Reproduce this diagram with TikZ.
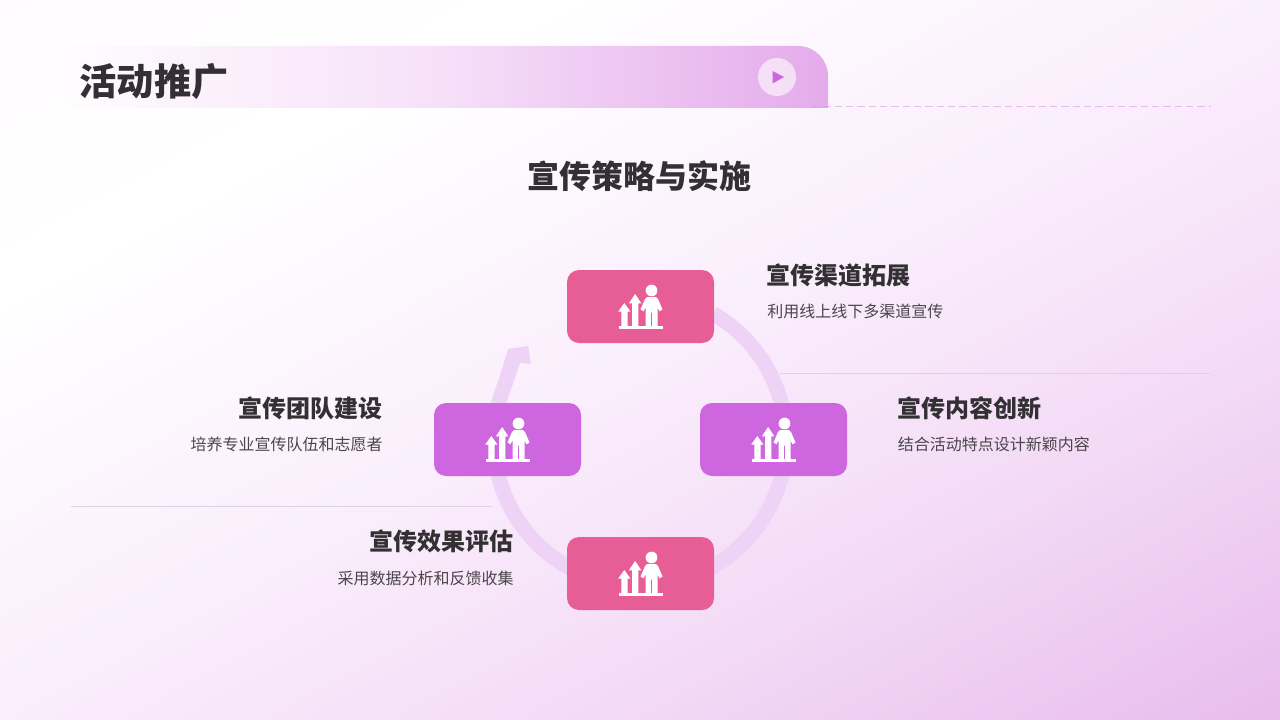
\documentclass[tikz,border=0pt]{standalone}
\usepackage{fontspec}
\setmainfont{Noto Sans CJK SC}
\definecolor{bgA}{HTML}{FFFBFF}
\definecolor{bgB}{HTML}{FFFFFF}
\definecolor{bgC}{HTML}{FAEEFC}
\definecolor{bgE}{HTML}{F3DAF6}
\definecolor{bgD}{HTML}{E8BBEC}
\definecolor{hdrA}{HTML}{FFFDFF}
\definecolor{hdrM}{HTML}{F6E0F9}
\definecolor{hdrB}{HTML}{E4ABEB}
\definecolor{dashc}{HTML}{D98FE6}
\pgfdeclareverticalshading{bgshade}{100bp}{
  color(0bp)=(bgA); color(25bp)=(bgA); color(38.3bp)=(bgB);
  color(50bp)=(bgC); color(60bp)=(bgE); color(71bp)=(bgD); color(100bp)=(bgD)}
\pgfdeclarehorizontalshading{hdrshade}{100bp}{
  color(0bp)=(hdrA); color(25bp)=(hdrA); color(50bp)=(hdrM); color(75bp)=(hdrB); color(100bp)=(hdrB)}
\definecolor{rosebox}{HTML}{E75E96}
\definecolor{violetbox}{HTML}{CE66E0}
\definecolor{ringc}{HTML}{EFD3F6}
\definecolor{inkdark}{HTML}{333033}
\definecolor{inkmid}{HTML}{4A454A}
\definecolor{rulec}{HTML}{DCD2E2}
\tikzset{
  x=0.75pt,y=-0.75pt,
  cardbox/.style={rounded corners=9pt,minimum width=110.25pt,minimum height=54.75pt,inner sep=0pt},
  rosecard/.style={cardbox,fill=rosebox},
  violetcard/.style={cardbox,fill=violetbox},
  maintitle/.style={inner sep=0pt,font=\bfseries\fontsize{27.9pt}{30pt}\selectfont,text=inkdark},
  subtitle/.style={inner sep=0pt,font=\bfseries\fontsize{24pt}{28pt}\selectfont,text=inkdark},
  headl/.style={inner sep=0pt,font=\bfseries\fontsize{18pt}{22pt}\selectfont,text=inkdark},
  descl/.style={inner sep=0pt,font=\fontsize{12pt}{15pt}\selectfont,text=inkmid},
  sepline/.style={draw=rulec,line width=0.75pt},
  ringline/.style={draw=ringc,line width=11.25pt},
  usericon/.pic={
    \fill[white] (-22,19.5) rectangle (22,22);
    \fill[white] (11,-16) circle (4.4pt);
    \fill[white] (-19.2,20) -- (-19.2,5.2) -- (-22.4,5.2) -- (-16.2,-3.5) -- (-10,5.2) -- (-13,5.2) -- (-13,20) -- cycle;
    \fill[white] (-8.4,20) -- (-8.4,-3.2) -- (-11.6,-3.2) -- (-5.4,-12.5) -- (0.8,-3.2) -- (-2.2,-3.2) -- (-2.2,20) -- cycle;
    \fill[white] (6.5,-9.4) -- (15.5,-9.4) -- (17.5,-7.5) -- (22,3) -- (19,4.8) -- (17,1) -- (17,20) -- (11.7,20) -- (11.7,6) -- (10.3,6) -- (10.3,20) -- (5,20) -- (5,1) -- (3,4.8) -- (0,3) -- (4.5,-7.5) -- cycle;
  }
}
\begin{document}
\begin{tikzpicture}
\useasboundingbox (0,0) rectangle (1280,720);
\begin{scope}
  \clip (0,0) rectangle (1280,720);
  \shade[shading=bgshade,shading angle=-152] (-110,-390) rectangle (1390,1110);
\end{scope}
% header
\shade[shading=hdrshade] (52,46) -- (798,46) arc[start angle=90,end angle=0,radius=22.5pt] -- (828,108) -- (52,108) -- cycle;
\fill[white,fill opacity=0.6] (777,77) circle (14.25pt);
\fill[violetbox] (772.5,71) -- (784,77) -- (772.5,83.5) -- cycle;
\coordinate (dashA) at (812,106.5);
\coordinate (dashB) at (1211,106.5);
\draw[draw=dashc,draw opacity=0.55,line width=1.1pt,dash pattern=on 5.5pt off 3pt] (dashA) -- (dashB);
\node[maintitle,anchor=west] (ttl) at (79.5,82) {活动推广};
\node[subtitle] (sub) at (639.5,176) {宣传策略与实施};
% separators
\coordinate (s1a) at (780,373.5); \coordinate (s1b) at (1210,373.5);
\coordinate (s2a) at (71,506.5); \coordinate (s2b) at (492,506.5);
\draw[sepline] (s1a) -- (s1b);
\draw[sepline] (s2a) -- (s2b);
% ring
\coordinate (ringO) at (640,440);
\draw[ringline] ([shift={(ringO)}] 60:109.5pt) arc[start angle=60,end angle=-200,radius=109.5pt];
\fill[ringc] (495.8,387.5) .. controls (501.6,371.5) and (504,362) .. (508,349) -- (528,346) -- (531,364) -- (520,363) .. controls (517,372) and (514.6,379) .. (509.9,392.6) -- cycle;
% cards
\node[rosecard] (top) at (640.5,306.5) {};
\node[violetcard] (right) at (773.5,439.5) {};
\node[violetcard] (left) at (507.5,439.5) {};
\node[rosecard] (bottom) at (640.5,573.5) {};
\pic at (top) {usericon};
\pic at (right) {usericon};
\pic at (left) {usericon};
\pic at (bottom) {usericon};
% labels
\node[headl,anchor=west] (h1) at (766.5,275) {宣传渠道拓展};
\node[descl,anchor=west] (d1) at (767,311) {利用线上线下多渠道宣传};
\node[headl,anchor=west] (h2) at (897.5,408) {宣传内容创新};
\node[descl,anchor=west] (d2) at (897.5,444) {结合活动特点设计新颖内容};
\node[headl,anchor=east] (h3) at (383,408) {宣传团队建设};
\node[descl,anchor=east] (d3) at (383,444) {培养专业宣传队伍和志愿者};
\node[headl,anchor=east] (h4) at (514,541) {宣传效果评估};
\node[descl,anchor=east] (d4) at (514,578) {采用数据分析和反馈收集};
\end{tikzpicture}
\end{document}
